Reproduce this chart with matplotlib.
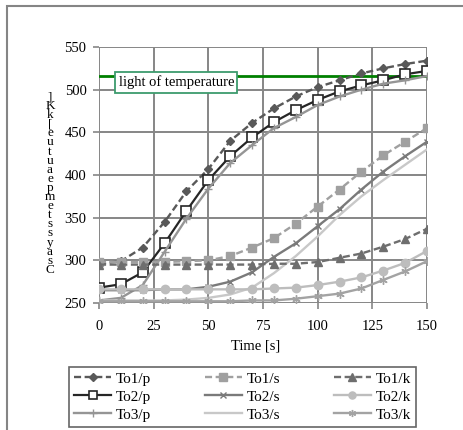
import matplotlib
matplotlib.use('Agg')
import matplotlib.pyplot as plt
from matplotlib.patches import Rectangle

plt.rcParams['font.family'] = 'Liberation Serif'

# time axis, one point every 10 s
time_s = [0, 10, 20, 30, 40, 50, 60, 70, 80, 90, 100, 110, 120, 130, 140, 150]

to1_p = [296, 299, 315, 345, 381, 407, 440, 461, 478, 492, 503, 511, 519, 525, 530, 534]
to2_p = [268, 272, 286, 320, 358, 394, 422, 444, 462, 476, 488, 498, 505, 511, 518, 522]
to3_p = [253, 256, 271, 310, 349, 384, 414, 435, 455, 468, 482, 492, 500, 507, 511, 516]
to1_s = [298, 298, 298, 298, 299, 300, 305, 315, 326, 343, 363, 383, 404, 423, 439, 455]
to2_s = [265, 265, 265, 266, 266, 269, 275, 286, 304, 320, 340, 360, 383, 404, 422, 439]
to3_s = [253, 253, 253, 253, 254, 256, 260, 268, 285, 305, 328, 353, 375, 394, 412, 430]
to1_k = [295, 295, 295, 295, 295, 295, 295, 295, 296, 296, 298, 303, 308, 316, 325, 337]
to2_k = [266, 266, 266, 266, 266, 266, 266, 266, 267, 268, 271, 275, 280, 288, 297, 311]
to3_k = [252, 252, 252, 252, 252, 252, 252, 253, 253, 255, 258, 261, 267, 277, 287, 299]

limit_temp = 516
limit_label = 'light of temperature'

x_ticks = [0, 25, 50, 75, 100, 125, 150]
y_ticks = [250, 300, 350, 400, 450, 500, 550]

fs = 10.5
fig = plt.figure(figsize=(4.64, 4.30), dpi=100)
fig.patches.append(Rectangle((7 / 464, -0.1), 1.2, 1.1 - 6 / 430,
                             transform=fig.transFigure, fill=False,
                             edgecolor='#858585', linewidth=1.5))
ax = fig.add_axes([99 / 464, 1 - 303 / 430, 328 / 464, 256 / 430])

grid_c = '#868686'
ax.set_xlim(0, 150)
ax.set_ylim(250, 550)
ax.set_xticks(x_ticks)
ax.set_yticks(y_ticks)
ax.grid(True, color=grid_c, linewidth=1.4)
for s in ax.spines.values():
    s.set_visible(False)
ax.tick_params(axis='both', length=4, width=1.2, color=grid_c, labelsize=fs)
ax.tick_params(axis='x', pad=8)
ax.tick_params(axis='y', pad=5)
ax.set_axisbelow(True)

ax.axhline(limit_temp, color='#008000', linewidth=2)
ax.text(9.0, 508.5, limit_label, fontsize=fs, va='center', ha='left',
        bbox=dict(boxstyle='square,pad=0.22', facecolor='white', edgecolor='#3d9b6d', linewidth=1.3))

h = {}
h['To1/p'], = ax.plot(time_s, to1_p, '--', color='#595959', lw=1.7, marker='D', ms=4.5, dashes=(3, 1.5))
h['To2/p'], = ax.plot(time_s, to2_p, '-', color='#262626', lw=1.6, marker='s', ms=6.5, mfc='white', mec='#262626', mew=1.2)
h['To3/p'], = ax.plot(time_s, to3_p, '-', color='#959595', lw=1.7, marker='+', ms=6)
h['To1/s'], = ax.plot(time_s, to1_s, '--', color='#a0a0a0', lw=1.7, marker='s', ms=6, dashes=(3, 1.5))
h['To2/s'], = ax.plot(time_s, to2_s, '-', color='#7a7a7a', lw=1.7, marker='x', ms=5)
h['To3/s'], = ax.plot(time_s, to3_s, '-', color='#c8c8c8', lw=1.7)
h['To1/k'], = ax.plot(time_s, to1_k, '--', color='#6e6e6e', lw=1.7, marker='^', ms=6, dashes=(3, 1.5))
h['To2/k'], = ax.plot(time_s, to2_k, '-', color='#bdbdbd', lw=1.7, marker='o', ms=6)
h['To3/k'], = ax.plot(time_s, to3_k, '-', color='#a3a3a3', lw=1.7, marker=(6, 2, 0), ms=6)

ax.set_xlabel('Time [s]', fontsize=fs)
ax.xaxis.set_label_coords((256 - 99) / 328, -(339 - 303) / 256)

# garbled stacked y-axis label as in the source (upright letters, overlapping)
ylab = list(']Kk[eutuaepmetssyasC')
top_px, step_px = 97, 9.1
for i, ch in enumerate(ylab):
    fig.text(50 / 464, 1 - (top_px + i * step_px) / 430, ch, fontsize=9.5,
             ha='center', va='center')

order = ['To1/p', 'To2/p', 'To3/p', 'To1/s', 'To2/s', 'To3/s', 'To1/k', 'To2/k', 'To3/k']
leg = fig.legend([h[k] for k in order], order, ncol=3, loc='lower left',
                 bbox_to_anchor=(69 / 464, 1 - 427 / 430, 347 / 464, 64 / 430),
                 mode='expand', frameon=True, fancybox=False, fontsize=fs + 0.5,
                 handlelength=2.4, borderaxespad=0, labelspacing=0.28,
                 handletextpad=0.3, borderpad=0.35, markerscale=0.85)
leg.get_frame().set_edgecolor('#404040')
leg.get_frame().set_linewidth(1.2)

fig.savefig('out.png', dpi=100)
